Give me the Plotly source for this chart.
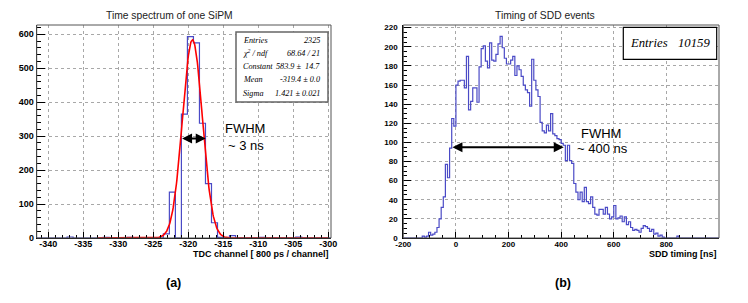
import numpy as np
import plotly.graph_objects as go

W, H = 748, 303

# ---------------- Left panel data: time spectrum of one SiPM ----------------
sipm_bin_start = -341.62
sipm_bin_width = 0.86
sipm_counts = [0, 0, 0, 0, 0, 3, 0, 0, 0, 0,
               0, 2, 0, 0, 0, 2, 0, 1, 0, 0,
               0, 12, 135, 0, 365, 593, 575, 338, 160, 45,
               2, 0, 7, 0, 0, 0, 0, 2, 0, 0,
               0, 0, 0, 3, 0, 0, 0, 0, 0, 0]
# Gaussian fit parameters (from the stats box)
fit_constant = 583.9
fit_mean = -319.4
fit_sigma = 1.421
fit_range = [-333.0, -300.0]
sipm_stats_labels = ["Entries", "χ<sup>2</sup> / ndf", "Constant", "Mean", "Sigma"]
sipm_stats_values = ["2325", "68.64 / 21", "583.9 ±  14.7", "-319.4 ± 0.0", "1.421 ± 0.021"]
sipm_xticks = [-340, -335, -330, -325, -320, -315, -310, -305, -300]
sipm_xticktext = ["-340", "-335", "-330", "-325", "-320", "-315", "-310", "-305", "-300"]
sipm_yticks = [0, 100, 200, 300, 400, 500, 600]
sipm_fwhm = [-321.1, -317.5, 293]

# ---------------- Right panel data: timing of SDD events ----------------
sdd_bin_start = -200.0
sdd_bin_width = 8.0
sdd_counts = ([0] * 9 +
              [2, 1, 2, 6, 3, 4, 6, 11, 20, 32, 43, 77, 63, 94, 125, 117] +
              [160, 164, 165, 165, 157, 190, 134, 143, 157, 157, 142, 179, 198, 201,
               185, 178, 204, 186, 185, 192, 203, 211, 199, 188, 182, 182, 186, 190] +
              [170, 180, 176, 169, 160, 155, 152, 138, 187, 165, 155, 148, 121, 112,
               110, 118, 112, 130, 109, 107, 104, 103, 99, 97, 81, 97, 81, 78] +
              [57, 48, 40, 48, 38, 53, 38, 36, 43, 32, 25, 24, 30, 30, 25,
               32, 25, 20, 22, 34, 20, 21, 23, 17, 22, 14, 17, 11, 8, 9] +
              [8, 6, 10, 13, 12, 10, 7, 9, 4, 5, 2, 3, 1] +
              [0] * 6 + [2] + [0] * 19)
sdd_entries = "10159"
sdd_xticks = [-200, 0, 200, 400, 600, 800]
sdd_xticktext = ["-200", "0", "200", "400", "600", "800"]
sdd_yticks = [0, 20, 40, 60, 80, 100, 120, 140, 160, 180, 200, 220]
sdd_fwhm = [-19, 410, 95]


def step_xy(start, width, counts):
    edges = start + width * np.arange(len(counts) + 1)
    xs = list(edges)
    ys = list(counts) + [counts[-1]]
    return xs, ys


def px(x):
    return x / W


def py(y):
    return 1 - y / H


HIST_COLOR = "#4a4ac6"
SANS = "Liberation Sans"
SERIF = "Liberation Serif"

fig = go.Figure()

# Left histogram
xs, ys = step_xy(sipm_bin_start, sipm_bin_width, sipm_counts)
fig.add_trace(go.Scatter(x=xs, y=ys, mode="lines", line=dict(color=HIST_COLOR, width=1.2, shape="hv"),
                         xaxis="x", yaxis="y", hoverinfo="skip", showlegend=False))
# Gaussian fit curve
fx = np.linspace(fit_range[0], fit_range[1], 500)
fy = fit_constant * np.exp(-0.5 * ((fx - fit_mean) / fit_sigma) ** 2)
fig.add_trace(go.Scatter(x=fx, y=fy, mode="lines", line=dict(color="#ff0000", width=1.6),
                         xaxis="x", yaxis="y", hoverinfo="skip", showlegend=False))

# Right histogram
xs2, ys2 = step_xy(sdd_bin_start, sdd_bin_width, sdd_counts)
fig.add_trace(go.Scatter(x=xs2, y=ys2, mode="lines", line=dict(color=HIST_COLOR, width=1.2, shape="hv"),
                         xaxis="x2", yaxis="y2", hoverinfo="skip", showlegend=False))

ydom = [py(238), py(25)]
grid = dict(showgrid=True, gridcolor="#a8a8a8", griddash="dot", gridwidth=1, zeroline=False,
            showline=True, linecolor="black", linewidth=1, ticks="inside", tickcolor="black",
            automargin=False)

fig.update_layout(
    width=W, height=H, margin=dict(l=0, r=0, t=0, b=0, autoexpand=False),
    paper_bgcolor="white", plot_bgcolor="white", showlegend=False,
    xaxis=dict(domain=[px(36.7), px(331)], range=[-341.66, -299.6], anchor="y",
               tickvals=sipm_xticks, ticktext=sipm_xticktext, ticklen=6, ticklabelstandoff=-3,
               minor=dict(dtick=1, tick0=-340, ticks="inside", ticklen=3, tickcolor="black", showgrid=False),
               tickfont=dict(family=SANS, size=9, color="black", weight="bold"), **grid),
    yaxis=dict(domain=ydom, range=[0, 627.5], anchor="x",
               tickvals=sipm_yticks, ticklen=8,
               minor=dict(dtick=20, tick0=0, ticks="inside", ticklen=4, tickcolor="black", showgrid=False),
               tickfont=dict(family=SANS, size=9, color="black", weight="bold"), **grid),
    xaxis2=dict(domain=[px(403.3), px(719)], range=[-200, 1000], anchor="y2",
                tickvals=sdd_xticks, ticktext=sdd_xticktext, ticklen=6, ticklabelstandoff=-2,
                minor=dict(dtick=50, tick0=-200, ticks="inside", ticklen=3, tickcolor="black", showgrid=False),
                tickfont=dict(family=SANS, size=8, color="black", weight="bold"), **grid),
    yaxis2=dict(domain=ydom, range=[0, 222.8], anchor="x2",
                tickvals=sdd_yticks, ticklen=8, ticklabelstandoff=3,
                minor=dict(dtick=5, tick0=0, ticks="inside", ticklen=4, tickcolor="black", showgrid=False),
                tickfont=dict(family=SANS, size=8, color="black", weight="bold"), **grid),
)

shapes = [
    dict(type="rect", xref="x domain", yref="y domain", x0=0, x1=1, y0=0, y1=1,
         line=dict(color="#555", width=1), layer="above"),
    dict(type="rect", xref="x2 domain", yref="y2 domain", x0=0, x1=1, y0=0, y1=1,
         line=dict(color="#555", width=1), layer="above"),
    # stats boxes
    dict(type="rect", xref="paper", yref="paper", x0=px(236), x1=px(328), y0=py(102), y1=py(32),
         line=dict(color="#666", width=1.5), fillcolor="white", layer="above"),
    dict(type="rect", xref="paper", yref="paper", x0=px(623.3), x1=px(716.7), y0=py(59.3), y1=py(27.3),
         line=dict(color="black", width=1.2), fillcolor="white", layer="above"),
]
fig.update_layout(shapes=shapes)

ann = []
# titles
ann.append(dict(x=px(169), y=py(15), xref="paper", yref="paper", text="Time spectrum of one SiPM",
                showarrow=False, font=dict(family=SANS, size=10.3, color="#222"), xanchor="center", yanchor="middle"))
ann.append(dict(x=px(545), y=py(15), xref="paper", yref="paper", text="Timing of SDD events",
                showarrow=False, font=dict(family=SANS, size=10.3, color="#222"), xanchor="center", yanchor="middle"))
# axis titles
ann.append(dict(x=px(331), y=py(254), xref="paper", yref="paper", text="TDC channel [ 800 ps / channel]",
                showarrow=False, font=dict(family=SANS, size=9, color="black", weight="bold"),
                xanchor="right", yanchor="middle"))
ann.append(dict(x=px(719), y=py(254), xref="paper", yref="paper", text="SDD timing [ns]",
                showarrow=False, font=dict(family=SANS, size=9, color="black", weight="bold"),
                xanchor="right", yanchor="middle"))
# panel labels
ann.append(dict(x=px(173), y=py(283), xref="paper", yref="paper", text="(a)", showarrow=False,
                font=dict(family=SANS, size=12.5, color="black", weight="bold"), xanchor="center", yanchor="middle"))
ann.append(dict(x=px(563), y=py(283), xref="paper", yref="paper", text="(b)", showarrow=False,
                font=dict(family=SANS, size=12.5, color="black", weight="bold"), xanchor="center", yanchor="middle"))
# FWHM texts
for (x, y, t) in [(223, 128, "FWHM"), (226, 145, "~ 3 ns"), (579, 133, "FWHM"), (575, 148, "~ 400 ns")]:
    ann.append(dict(x=px(x), y=py(y), xref="paper", yref="paper", text=t, showarrow=False,
                    font=dict(family=SANS, size=13, color="black"), xanchor="left", yanchor="middle"))
# FWHM arrows
ann.append(dict(x=sipm_fwhm[1], y=sipm_fwhm[2], ax=sipm_fwhm[0], ay=sipm_fwhm[2], xref="x", yref="y",
                axref="x", ayref="y", text="", showarrow=True, arrowside="end+start",
                arrowhead=2, startarrowhead=2, arrowsize=1, startarrowsize=1, arrowwidth=2, arrowcolor="black"))
ann.append(dict(x=sdd_fwhm[1], y=sdd_fwhm[2], ax=sdd_fwhm[0], ay=sdd_fwhm[2], xref="x2", yref="y2",
                axref="x2", ayref="y2", text="", showarrow=True, arrowside="end+start",
                arrowhead=2, startarrowhead=2, arrowsize=1, startarrowsize=1, arrowwidth=2, arrowcolor="black"))
# stats box left
row_y = [40, 53.3, 66.7, 80, 93.3]
for lab, val, yy in zip(sipm_stats_labels, sipm_stats_values, row_y):
    ann.append(dict(x=px(240.7), y=py(yy), xref="paper", yref="paper", text=lab, showarrow=False,
                    font=dict(family=SERIF, size=8.2, color="black", style="italic"),
                    xanchor="left", yanchor="middle"))
    ann.append(dict(x=px(322), y=py(yy), xref="paper", yref="paper", text=val, showarrow=False,
                    font=dict(family=SERIF, size=8.2, color="black", style="italic"),
                    xanchor="right", yanchor="middle"))
# stats box right
ann.append(dict(x=px(628), y=py(43.3), xref="paper", yref="paper", text="Entries", showarrow=False,
                font=dict(family=SERIF, size=12.7, color="black", style="italic"), xanchor="left", yanchor="middle"))
ann.append(dict(x=px(712), y=py(43.3), xref="paper", yref="paper", text=sdd_entries, showarrow=False,
                font=dict(family=SERIF, size=12.7, color="black", style="italic"), xanchor="right", yanchor="middle"))

fig.update_layout(annotations=ann)
fig.write_html("out.html", config={"displayModeBar": False},
               post_script="document.body.style.margin='0';document.body.style.padding='0';")
